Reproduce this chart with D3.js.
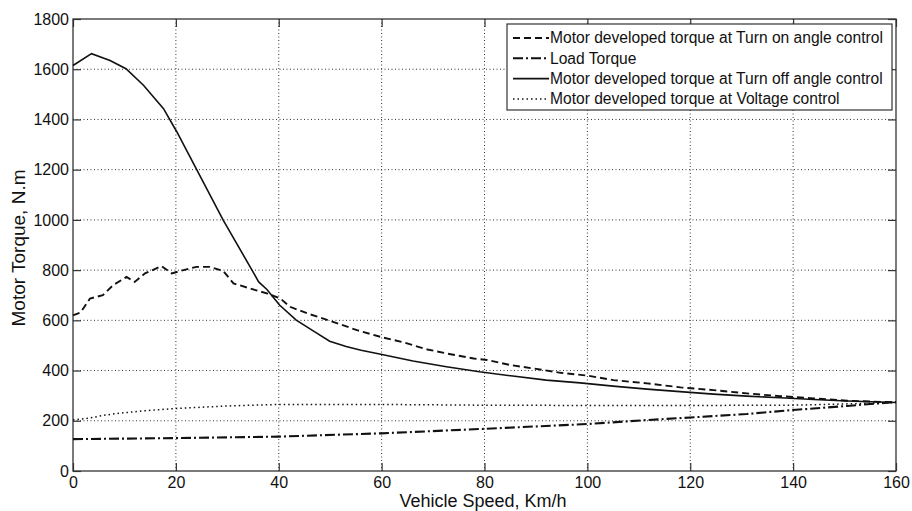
<!DOCTYPE html>
<html>
<head>
<meta charset="utf-8">
<script src="https://cdn.jsdelivr.net/npm/d3@7"></script>
<style>
  body { margin: 0; background: #fff; }
  text { font-family: "Liberation Sans", Arial, sans-serif; fill: #111; }
</style>
</head>
<body>
<svg id="chart" width="912" height="511"></svg>
<script>
// speed (km/h), torque (N.m)
const turnOn = [[0,620],[1.5,632],[3.3,687],[5.8,700],[7.8,740],[10.4,773],[12,753],[14,787],[17.2,816],
  [19.2,787],[21.5,800],[24,813],[26.6,813],[29.2,797],[31.2,747],[34.4,727],[37.7,707],[40.3,687],
  [42.2,654],[45.5,628],[49.1,604],[51.4,588],[55.2,561],[59.8,534],[64.3,512],[68.9,484],[73.4,465],
  [77.9,448],[80.5,442],[85,422],[89.6,408],[94.8,391],[100,380],[105.1,362],[111.6,349],[118.1,333],
  [124.5,322],[131,309],[137.5,298],[144,289],[150.5,280],[160,273]];
const loadTorque = [[0,127],[20,131],[40,137],[60,150],[80,168],[100,187],[111.6,203],[120,213],
  [131,227],[140,243],[150.5,259],[160,275]];
const turnOff = [[0,1615],[3.6,1662],[7.2,1635],[10.3,1602],[13.7,1536],[17.6,1443],[20.2,1350],
  [24.1,1198],[29.2,999],[34.8,800],[36.1,753],[37.7,723],[39,690],[40.2,660],[43.4,601],[46.7,558],
  [49.9,517],[53.1,496],[56,481],[59.6,466],[66.1,438],[72.6,415],[79,395],[85.5,378],[92,362],[98.6,351],
  [105,338],[111.6,326],[118,316],[124.5,306],[131,298],[137.5,292],[144,285],[150.5,279],[160,273]];
const voltage = [[0,203],[3,210],[6,222],[9,230],[14,240],[20,249],[30,259],[40,265],[60,265],
  [80,262],[100,261],[120,261],[140,262],[150,267],[160,273]];

const legendLabels = [
  "Motor developed torque at Turn on angle control",
  "Load Torque",
  "Motor developed torque at Turn off angle control",
  "Motor developed torque at Voltage control"
];
const xTicks = [0, 20, 40, 60, 80, 100, 120, 140, 160];
const yTicks = [0, 200, 400, 600, 800, 1000, 1200, 1400, 1600, 1800];

const svg = d3.select("#chart");
const plotL = 73, plotR = 896, plotT = 19, plotB = 471;

const x = d3.scaleLinear().domain([0, 160]).range([plotL, plotR]);
const y = d3.scaleLinear().domain([0, 1800]).range([plotB, plotT]);

// グリッド
const grid = svg.append("g");
grid.selectAll(".gx").data(xTicks.slice(1, -1)).enter().append("line")
  .attr("x1", d => x(d)).attr("x2", d => x(d)).attr("y1", plotT).attr("y2", plotB)
  .attr("stroke", "#333").attr("stroke-width", 1).attr("stroke-dasharray", "1,2.5");
grid.selectAll(".gy").data(yTicks.slice(1, -1)).enter().append("line")
  .attr("y1", d => y(d)).attr("y2", d => y(d)).attr("x1", plotL).attr("x2", plotR)
  .attr("stroke", "#333").attr("stroke-width", 1).attr("stroke-dasharray", "1,2.5");

// 軸 (目盛りは内向き)
const fmt = d3.format("d");
svg.append("g").attr("transform", `translate(0,${plotB})`)
  .call(d3.axisBottom(x).tickValues(xTicks).tickFormat(fmt).tickSizeInner(-8).tickSizeOuter(0).tickPadding(6))
  .call(g => g.select(".domain").remove());
svg.append("g").attr("transform", `translate(0,${plotT})`)
  .call(d3.axisTop(x).tickValues(xTicks).tickSizeInner(-8).tickSizeOuter(0).tickFormat(""))
  .call(g => g.select(".domain").remove());
svg.append("g").attr("transform", `translate(${plotL},0)`)
  .call(d3.axisLeft(y).tickValues(yTicks).tickFormat(fmt).tickSizeInner(-8).tickSizeOuter(0).tickPadding(4))
  .call(g => g.select(".domain").remove());
svg.append("g").attr("transform", `translate(${plotR},0)`)
  .call(d3.axisRight(y).tickValues(yTicks).tickSizeInner(-8).tickSizeOuter(0).tickFormat(""))
  .call(g => g.select(".domain").remove());

svg.selectAll(".tick line").attr("stroke", "#333").attr("stroke-width", 1.2);
svg.selectAll(".tick text").style("font-size", "16px").style("font-family", "Liberation Sans, Arial, sans-serif").attr("fill", "#111");

svg.append("rect").attr("x", plotL).attr("y", plotT)
  .attr("width", plotR - plotL).attr("height", plotB - plotT)
  .attr("fill", "none").attr("stroke", "#333").attr("stroke-width", 1.3);

// 曲線
const line = d3.line().x(d => x(d[0])).y(d => y(d[1]));
const styles = [
  { data: turnOn, dash: "7,4", width: 1.9 },
  { data: loadTorque, dash: "10,3,2,3", width: 2.1 },
  { data: turnOff, dash: null, width: 1.6 },
  { data: voltage, dash: "1.5,3", width: 1.5 }
];
svg.append("g").selectAll("path").data(styles).enter().append("path")
  .attr("d", d => line(d.data))
  .attr("fill", "none").attr("stroke", "#111")
  .attr("stroke-width", d => d.width)
  .attr("stroke-dasharray", d => d.dash);

// 凡例
const lg = svg.append("g");
lg.append("rect").attr("x", 507).attr("y", 24).attr("width", 385).attr("height", 86)
  .attr("fill", "#fff").attr("stroke", "#333").attr("stroke-width", 1.2);
styles.forEach((s, i) => {
  const yy = 38 + i * 20.3;
  lg.append("line").attr("x1", 513).attr("x2", 549).attr("y1", yy).attr("y2", yy)
    .attr("stroke", "#111").attr("stroke-width", s.width).attr("stroke-dasharray", s.dash);
  lg.append("text").attr("x", 550).attr("y", yy).attr("dy", "0.35em")
    .style("font-size", "15.6px").text(legendLabels[i]);
});

// 軸ラベル
svg.append("text").attr("x", 483).attr("y", 507).attr("text-anchor", "middle")
  .style("font-size", "18px").text("Vehicle Speed, Km/h");
svg.append("text").attr("transform", "translate(25,248) rotate(-90)")
  .attr("text-anchor", "middle")
  .style("font-size", "19px").text("Motor Torque, N.m");
</script>
</body>
</html>
